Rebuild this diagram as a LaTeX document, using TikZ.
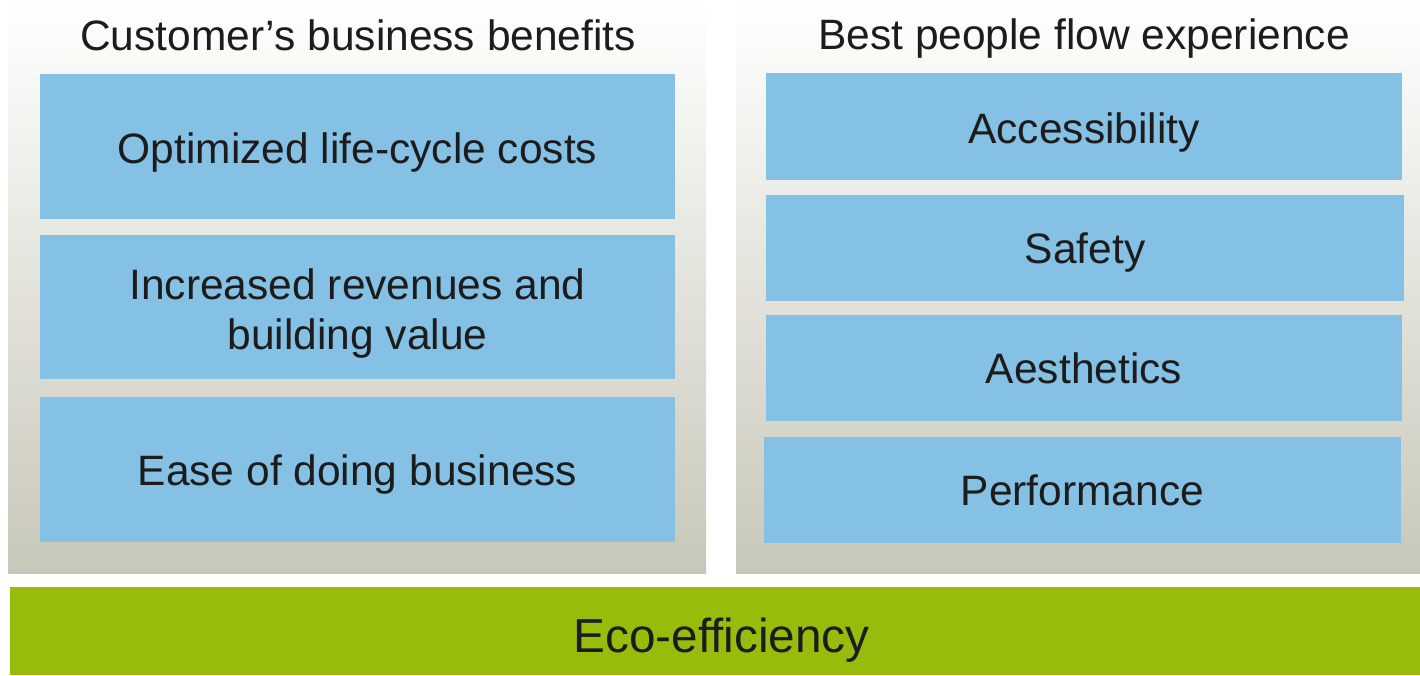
\documentclass[tikz,border=0pt]{standalone}
\usepackage{fontspec}
\setmainfont{Liberation Sans}
\definecolor{boxblue}{RGB}{133,192,229}
\definecolor{ecogreen}{RGB}{152,188,12}
\definecolor{panelgray}{RGB}{199,199,185}
\definecolor{inkgray}{RGB}{28,28,28}
\begin{document}
\begin{tikzpicture}[x=1pt,y=-1pt,
  titletext/.style={text=inkgray, font=\fontsize{42.5}{48}\selectfont, anchor=base},
  bluebox/.style={fill=boxblue, inner sep=0pt, text=inkgray,
    font=\fontsize{42.5}{50}\selectfont, align=center, text depth=0pt},
  ecobar/.style={fill=ecogreen, inner sep=0pt, text=inkgray,
    font=\fontsize{47.7}{52}\selectfont, text depth=0pt}]
\useasboundingbox (0,0) rectangle (1420,675);

% background panels
\shade[top color=white, bottom color=panelgray] (8,0) rectangle (706,573);
\shade[top color=white, bottom color=panelgray] (736,0) rectangle (1420,573);

% column titles
\node[titletext] (ltitle) at (358,50) {Customer’s business benefits};
\node[titletext] (rtitle) at (1084,49) {Best people flow experience};

% left column: business benefits
\node[bluebox, minimum width=635pt, minimum height=145pt, text height=33pt] (cost) at (357.5,146.5) {Optimized life-cycle costs};
\node[bluebox, minimum width=635pt, minimum height=144pt, text height=84pt] (rev) at (357.5,307) {Increased revenues and\\building value};
\node[bluebox, minimum width=635pt, minimum height=145pt, text height=31pt] (ease) at (357.5,469.5) {Ease of doing business};

% right column: people flow experience
\node[bluebox, minimum width=636pt, minimum height=107pt, text height=33pt] (acc) at (1084,126.5) {Accessibility};
\node[bluebox, minimum width=638pt, minimum height=106pt, text height=30pt] (safe) at (1085,248) {Safety};
\node[bluebox, minimum width=636pt, minimum height=106pt, text height=30pt] (aes) at (1084,368) {Aesthetics};
\node[bluebox, minimum width=637pt, minimum height=106pt, text height=30pt] (perf) at (1082.5,490) {Performance};

% foundation bar
\node[ecobar, minimum width=1410pt, minimum height=88pt, text height=42pt] (eco) at (715,631) {\hspace*{13pt}Eco-efficiency};
\end{tikzpicture}
\end{document}
